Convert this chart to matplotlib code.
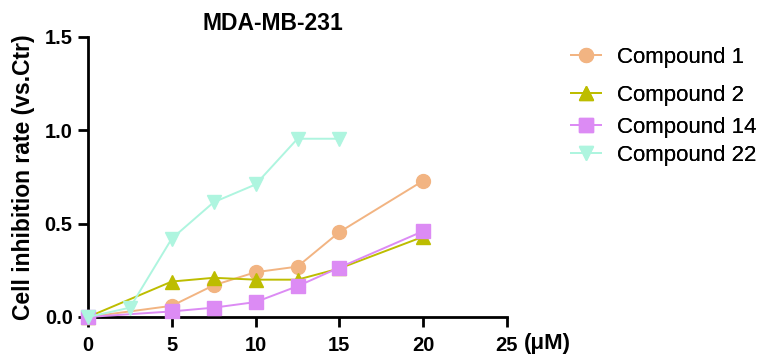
import matplotlib
matplotlib.use("Agg")
import matplotlib.pyplot as plt

conc_a = [0, 5, 7.5, 10, 12.5, 15, 20]
conc_22 = [0, 2.5, 5, 7.5, 10, 12.5, 15]
c1 = [0, 0.06, 0.17, 0.24, 0.27, 0.455, 0.73]
c2 = [0, 0.19, 0.21, 0.20, 0.20, 0.26, 0.43]
c14 = [0, 0.03, 0.05, 0.08, 0.165, 0.265, 0.46]
c22 = [0, 0.05, 0.42, 0.615, 0.71, 0.955, 0.955]

names = ["Compound 1", "Compound 2", "Compound 14", "Compound 22"]
colors = ["#F2B482", "#BDBD00", "#DC8BF4", "#AEF5DF"]
markers = ["o", "^", "s", "v"]
xticks = [0, 5, 10, 15, 20, 25]
yticks = [0.0, 0.5, 1.0, 1.5]

plt.rcParams['font.family'] = ['Liberation Sans', 'DejaVu Sans']
fig = plt.figure(figsize=(7.61, 3.54), dpi=100)
ax = fig.add_axes([88/761, 1-317/354, (507-88)/761, (317-37)/354])

series = [(conc_a, c1), (conc_a, c2), (conc_a, c14), (conc_22, c22)]
handles = []
for (xs, ys), n, col, m in zip(series, names, colors, markers):
    h, = ax.plot(xs, ys, color=col, marker=m, markersize=10, lw=1.4, label=n, clip_on=False, zorder=3)
    handles.append(h)

ax.set_xlim(0, 25)
ax.set_ylim(0, 1.5)
ax.set_xticks(xticks)
ax.set_yticks(yticks)
ax.set_xticklabels([str(t) for t in xticks], fontsize=14.5, fontweight='bold')
ax.set_yticklabels([f"{t:.1f}" for t in yticks], fontsize=14.5, fontweight='bold')
for s in ['top', 'right']:
    ax.spines[s].set_visible(False)
for s in ['left', 'bottom']:
    ax.spines[s].set_linewidth(2)
ax.tick_params(width=2, length=7.5, direction='out')
ax.tick_params(axis='y', pad=3.5)
ax.tick_params(axis='x', pad=6.5)
ax.set_ylabel("Cell inhibition rate (vs.Ctr)", fontsize=16.5, fontweight='bold')
ax.yaxis.set_label_coords(-(88-35)/419, 0.5)
fig.text(273/761, 1-24/354, "MDA-MB-231", ha='center', va='center', fontsize=16.5, fontweight='bold')
fig.text(524/761, 1-343/354, "(μM)", ha='left', va='center', fontsize=16, fontweight='bold')

leg_y = [57, 95, 127, 155]
for h, n, yy in zip(handles, names, leg_y):
    lg = fig.legend(handles=[h], labels=[n], loc='center left', bbox_to_anchor=(571/761, 1-yy/354),
                    frameon=False, fontsize=16, handlelength=1.35, handletextpad=0.72,
                    borderpad=0, borderaxespad=0)
    fig.add_artist(lg)

fig.savefig("out.png", dpi=100)
